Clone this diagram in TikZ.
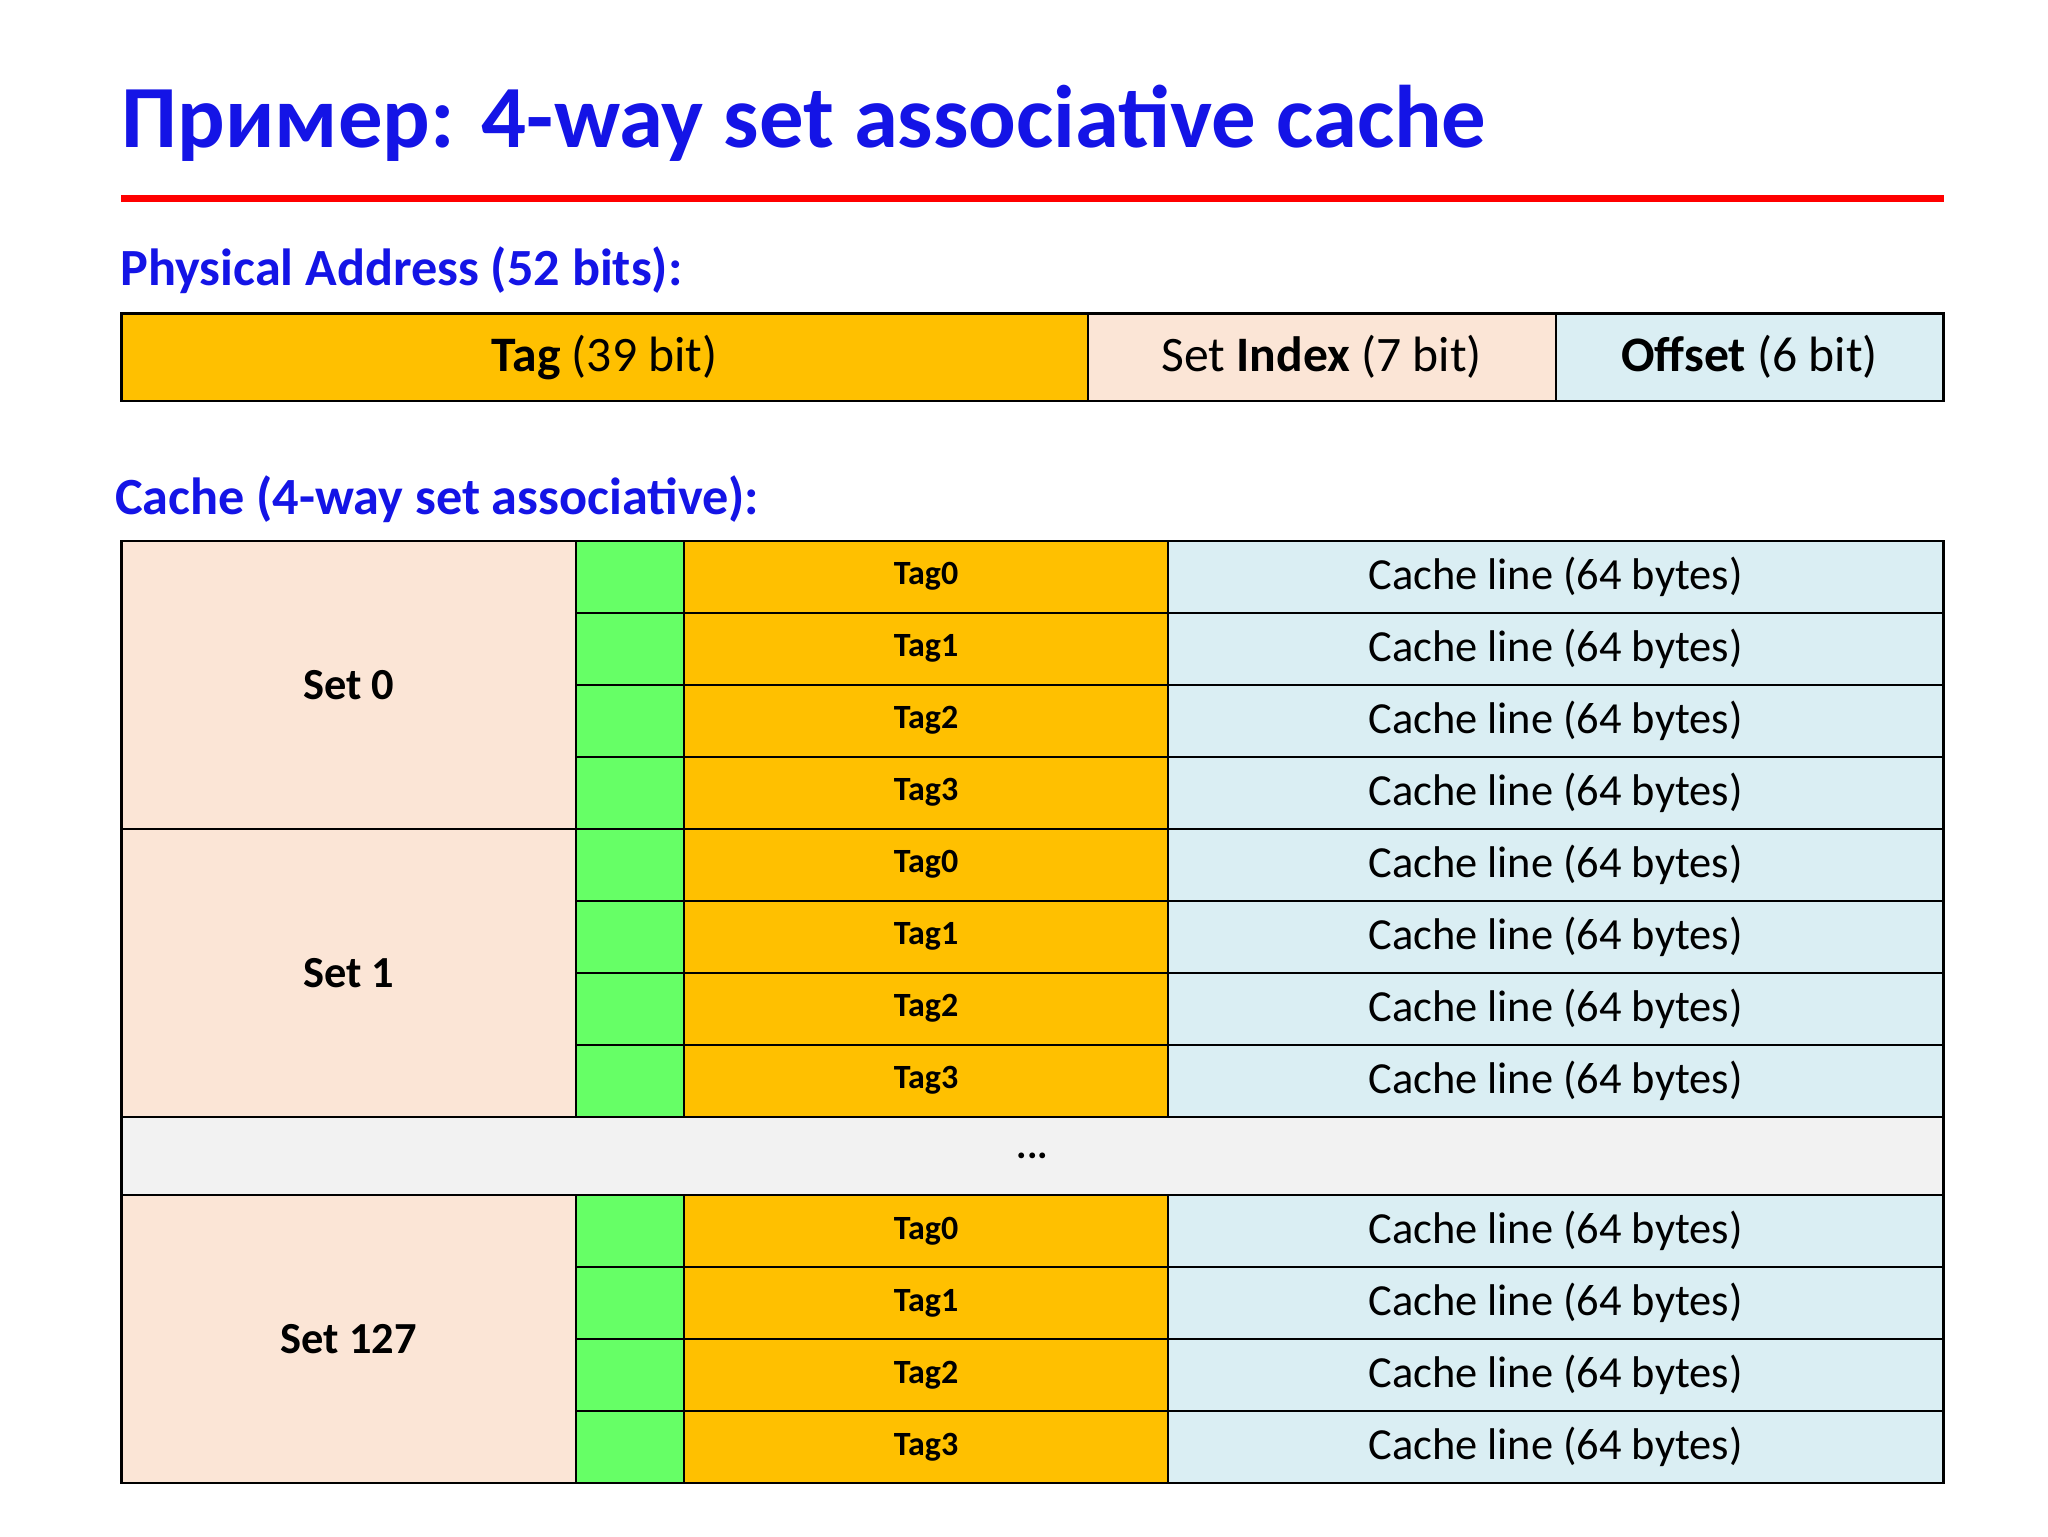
\documentclass[tikz,border=0pt]{standalone}
\usepackage{fontspec}
\setmainfont{Carlito}
\definecolor{ttl}{RGB}{20,20,230}
\definecolor{tagc}{RGB}{255,192,0}
\definecolor{setc}{RGB}{251,229,214}
\definecolor{linec}{RGB}{218,238,243}
\definecolor{validc}{RGB}{102,255,102}
\definecolor{dotc}{RGB}{242,242,242}
\begin{document}
\begin{tikzpicture}[x=1pt,y=-1pt,
  cell/.style={draw=black,line width=1.6pt,anchor=north west,inner sep=0pt,outer sep=0pt},
  head/.style={anchor=west,text=ttl,font=\bfseries\fontsize{40}{48}\selectfont,inner sep=0pt}]
\useasboundingbox (0,0) rectangle (1568,1176);
\fill[white] (0,0) rectangle (1568,1176);
\node[anchor=base west,text=ttl,font=\bfseries\fontsize{68}{80}\selectfont,inner sep=0pt] (title) at (93,113) {Пример: 4-way set associative cache};
\coordinate (r1) at (93,152); \coordinate (r2) at (1488,152);
\draw[red,line width=5pt] (r1) -- (r2);
\node[head] (pa) at (92,207) {Physical Address (52 bits):};
\begin{scope}[font=\fontsize{38}{44}\selectfont]
\node[cell,fill=tagc,minimum width=740,minimum height=67] (tag) at (93,240) {\textbf{Tag} (39 bit)};
\node[cell,fill=setc,minimum width=358,minimum height=67] (idx) at (833,240) {Set \textbf{Index} (7 bit)};
\node[cell,fill=linec,minimum width=297,minimum height=67] (off) at (1191,240) {\textbf{Offset} (6 bit)};
\end{scope}
\node[head] (ch) at (88,382) {Cache (4-way set associative):};
\foreach \s/\y/\lab in {a/414/Set 0,b/634.5/Set 1,c/915/Set 127}{
  \node[cell,fill=setc,minimum width=348,minimum height=220.5,font=\bfseries\fontsize{34}{40}\selectfont] (set\s) at (93,\y) {\lab};
  \foreach \r in {0,1,2,3}{
    \node[cell,fill=validc,minimum width=83,minimum height=55.1] (v\s\r) at (441,\y+55.1*\r) {};
    \node[cell,fill=tagc,minimum width=370,minimum height=55.1,font=\bfseries\fontsize{26}{30}\selectfont] (t\s\r) at (524,\y+55.1*\r) {Tag\r};
    \node[cell,fill=linec,minimum width=594,minimum height=55.1,font=\fontsize{34}{40}\selectfont] (l\s\r) at (894,\y+55.1*\r) {Cache line (64 bytes)};
  }
}
\node[cell,fill=dotc,minimum width=1395,minimum height=60,font=\bfseries\fontsize{30}{36}\selectfont] (dots) at (93,855) {...};
\end{tikzpicture}
\end{document}
